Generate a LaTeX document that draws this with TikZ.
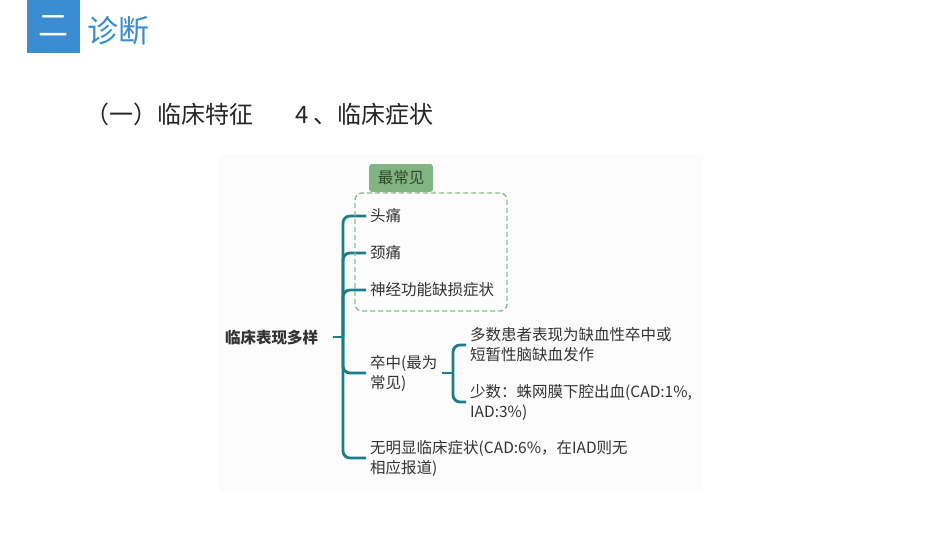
\documentclass[tikz,border=0pt]{standalone}
\usepackage{fontspec}
\setmainfont{Noto Sans CJK SC}
\usetikzlibrary{arrows.meta}

% 颜色
\definecolor{titleblue}{HTML}{3A8DD0}
\definecolor{branchteal}{HTML}{1B7C8C}
\definecolor{tagfill}{HTML}{82B382}
\definecolor{tagline}{HTML}{8DBA8D}
\definecolor{tagtext}{HTML}{2E472E}
\definecolor{mapbg}{HTML}{FCFCFC}
\definecolor{txtgray}{HTML}{333333}

\begin{document}
\begin{tikzpicture}[x=1pt, y=-1pt,
    leaf/.style={anchor=west, align=left, inner sep=4pt, text=txtgray,
      font=\fontsize{15.5}{20}\selectfont},
    branch/.style={draw=branchteal, line width=2.8pt, rounded corners=7pt},
    tagbox/.style={fill=tagfill, rounded corners=3pt, text=tagtext,
      minimum width=64pt, minimum height=28pt, inner sep=0pt,
      font=\fontsize{15.5}{20}\selectfont},
    commonbox/.style={draw=tagline, line width=1.4pt, dash pattern=on 5pt off 3pt,
      rounded corners=7pt, minimum width=152pt, minimum height=118pt}]
    \useasboundingbox (0,0) rectangle (950,535);

    % 标题
    \node[fill=titleblue, minimum size=53pt, inner sep=0pt, text=white,
      font=\fontsize{30}{30}\selectfont] (num) at (53.5,26.5) {二};
    \node[anchor=west, inner sep=0pt, text=titleblue,
      font=\fontsize{31}{31}\selectfont] (title) at (87,31) {诊断};
    \node[anchor=west, inner sep=0pt, text=black!85,
      font=\fontsize{24}{24}\selectfont] (sec) at (85,114) {（一）临床特征};
    \node[anchor=west, inner sep=0pt, text=black!85,
      font=\fontsize{24}{24}\selectfont] (subsec) at (295,114) {4 、临床症状};

    % 思维导图底色
    \fill[mapbg] (219,154) rectangle (703,492);

    % 根节点
    \node[anchor=west, inner sep=0pt, text=txtgray,
      font=\fontsize{15.5}{20}\selectfont\bfseries] (root) at (225,338) {临床表现多样};
    \coordinate (rootout) at (333,337);
    \coordinate (hub) at (343,337);

    % 一级分支
    \node[leaf] (c1) at (366,216) {头痛};
    \node[leaf] (c2) at (366,253) {颈痛};
    \node[leaf] (c3) at (366,290) {神经功能缺损症状};
    \node[leaf] (c4) at (366,373) {卒中(最为\\常见)};
    \node[leaf] (c5) at (366,458) {无明显临床症状(CAD:6\%，在IAD则无\\相应报道)};

    \draw[branch] (rootout) -- (hub);
    \foreach \c in {c1,c2,c3,c4,c5}
      \draw[branch] (hub) |- (\c.west);

    % 卒中的二级分支
    \coordinate (subout) at (442,373);
    \coordinate (sub) at (453,373);
    \node[leaf] (s1) at (466,345) {多数患者表现为缺血性卒中或\\短暂性脑缺血发作};
    \node[leaf] (s2) at (466,402) {少数：蛛网膜下腔出血(CAD:1\%,\\IAD:3\%)};

    \draw[branch] (subout) -- (sub);
    \foreach \c in {s1,s2}
      \draw[branch] (sub) |- (\c.west);

    % 最常见（虚线框 + 标签）
    \node[commonbox] (common) at (431,252) {};
    \node[tagbox] (tag) at (401,178) {最常见};
\end{tikzpicture}
\end{document}
